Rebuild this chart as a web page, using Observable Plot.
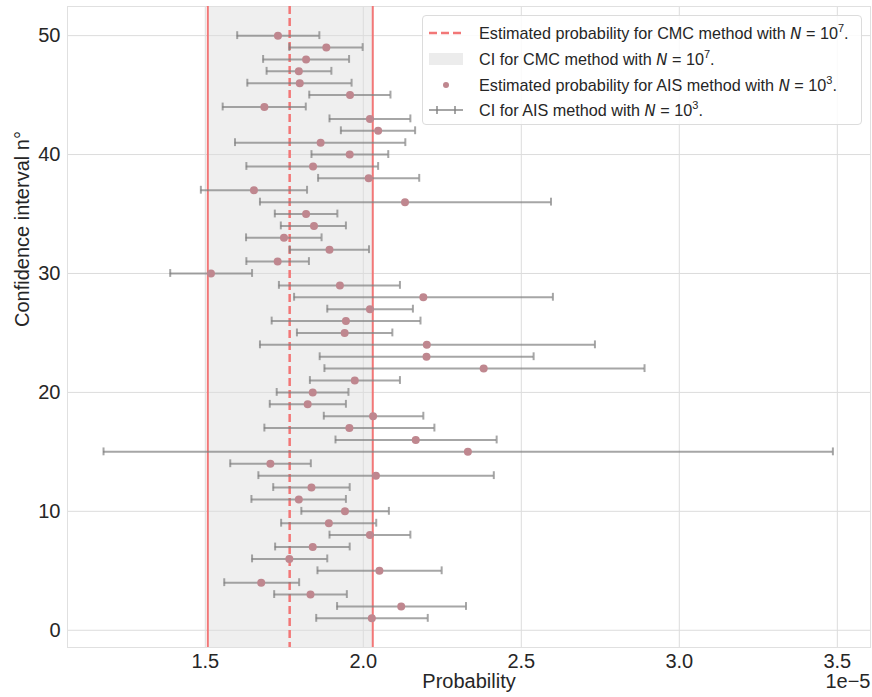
<!DOCTYPE html>
<html>
<head>
<meta charset="utf-8">
<script src="https://cdn.jsdelivr.net/npm/d3@7"></script>
<script src="https://cdn.jsdelivr.net/npm/@observablehq/plot@0.6"></script>
<style>
  html, body { margin: 0; padding: 0; background: #fff; }
  #wrap { position: relative; width: 872px; height: 697px; font-family: "Liberation Sans", Arial, sans-serif; color: #262626; }
  #legend { position: absolute; left: 422px; top: 15px; width: 440px; height: 110px; box-sizing: border-box;
    background: rgba(255,255,255,0.85); border: 1px solid #dcdcdc; border-radius: 4px; font-size: 16.2px; }
  .row { position: absolute; left: 0; height: 24px; display: flex; align-items: center; }
  .row svg { margin-left: 4px; width: 38px; height: 24px; }
  .row span { margin-left: 14px; white-space: nowrap; }
  .row i { font-family: "DejaVu Sans", sans-serif; font-size: 15px; }
  sup { font-size: 11px; vertical-align: 7px; line-height: 0; }
</style>
</head>
<body>
<div id="wrap">
  <div id="chart"></div>
  <div id="legend">
    <div class="row" style="top:5px"><svg><line x1="2" x2="36" y1="12" y2="12" stroke="#f27777" stroke-width="2.5" stroke-dasharray="8,4"/></svg><span>Estimated probability for CMC method with <i>N</i> = 10<sup>7</sup>.</span></div>
    <div class="row" style="top:31px"><svg><rect x="2" y="6" width="34" height="12" fill="#ececec"/></svg><span>CI for CMC method with <i>N</i> = 10<sup>7</sup>.</span></div>
    <div class="row" style="top:57px"><svg><circle cx="19" cy="12" r="3" fill="#bf878f"/></svg><span>Estimated probability for AIS method with <i>N</i> = 10<sup>3</sup>.</span></div>
    <div class="row" style="top:82px"><svg><line x1="2" x2="36" y1="12" y2="12" stroke="#808080" stroke-opacity="0.7" stroke-width="2"/><line x1="10" x2="10" y1="8" y2="16" stroke="#808080" stroke-opacity="0.7" stroke-width="2"/><line x1="28" x2="28" y1="8" y2="16" stroke="#808080" stroke-opacity="0.7" stroke-width="2"/></svg><span>CI for AIS method with <i>N</i> = 10<sup>3</sup>.</span></div>
  </div>
</div>
<script>
// Confidence interval number
const ids = [50,49,48,47,46,45,44,43,42,41,40,39,38,37,36,35,34,33,32,31,30,29,28,27,26,25,24,23,22,21,20,19,18,17,16,15,14,13,12,11,10,9,8,7,6,5,4,3,2,1];
// AIS estimates (x 1e-5)
const aisEst = [1.730,1.883,1.819,1.796,1.799,1.958,1.687,2.021,2.047,1.865,1.957,1.841,2.017,1.654,2.132,1.819,1.844,1.749,1.893,1.729,1.518,1.926,2.190,2.021,1.945,1.941,2.201,2.200,2.381,1.973,1.840,1.824,2.031,1.956,2.166,2.331,1.706,2.040,1.836,1.796,1.942,1.891,2.021,1.840,1.766,2.051,1.677,1.833,2.120,2.027];
// AIS CI lower bounds
const aisLow = [1.601,1.766,1.683,1.694,1.633,1.829,1.555,1.893,1.929,1.594,1.836,1.630,1.857,1.486,1.673,1.720,1.739,1.629,1.767,1.630,1.389,1.733,1.781,1.886,1.710,1.790,1.673,1.862,1.877,1.831,1.726,1.704,1.875,1.687,1.912,1.178,1.579,1.668,1.715,1.646,1.804,1.740,1.893,1.721,1.648,1.855,1.560,1.718,1.917,1.851];
// AIS CI upper bounds
const aisHigh = [1.861,1.998,1.955,1.899,1.963,2.086,1.818,2.149,2.164,2.133,2.079,2.047,2.177,1.822,2.594,1.918,1.945,1.868,2.018,1.828,1.648,2.116,2.600,2.157,2.181,2.092,2.733,2.539,2.890,2.116,1.953,1.945,2.190,2.225,2.422,3.486,1.834,2.413,1.957,1.945,2.081,2.041,2.149,1.957,1.886,2.248,1.797,1.948,2.325,2.204];
// CMC reference (x 1e-5)
const cmcEst = [1.767];
const cmcLow = [1.508];
const cmcHigh = [2.030];

const xTicks = [1.5, 2.0, 2.5, 3.0, 3.5];
const yTicks = [0, 10, 20, 30, 40, 50];

const data = ids.map((id, i) => ({id, est: aisEst[i], lo: aisLow[i], hi: aisHigh[i]}));
const cmc = [{est: cmcEst[0], lo: cmcLow[0], hi: cmcHigh[0]}];

const lineColor = "#f27777";
const barStroke = {stroke: "#808080", strokeOpacity: 0.7, strokeWidth: 2};

const chart = Plot.plot({
  width: 872,
  height: 697,
  marginLeft: 67,
  marginRight: 2,
  marginTop: 6,
  marginBottom: 50,
  style: {fontFamily: "'Liberation Sans', Arial, sans-serif", fontSize: "20px", color: "#262626", background: "transparent"},
  x: {domain: [1.064, 3.605], label: null},
  y: {domain: [-1.45, 52.45], label: null},
  marks: [
    Plot.rect(cmc, {x1: "lo", x2: "hi", fill: "#efefef"}),
    Plot.gridX(xTicks, {stroke: "#dcdcdc", strokeOpacity: 1, strokeWidth: 1}),
    Plot.gridY(yTicks, {stroke: "#dcdcdc", strokeOpacity: 1, strokeWidth: 1}),
    Plot.frame({stroke: "#e0e0e0"}),
    Plot.ruleX(cmc, {x: "lo", stroke: lineColor, strokeWidth: 2}),
    Plot.ruleX(cmc, {x: "hi", stroke: lineColor, strokeWidth: 2}),
    Plot.ruleX(cmc, {x: "est", stroke: lineColor, strokeWidth: 2.5, strokeDasharray: "8,4"}),
    Plot.ruleY(data, {y: "id", x1: "lo", x2: "hi", ...barStroke}),
    Plot.ruleX(data, {x: "lo", y1: d => d.id - 0.33, y2: d => d.id + 0.33, ...barStroke}),
    Plot.ruleX(data, {x: "hi", y1: d => d.id - 0.33, y2: d => d.id + 0.33, ...barStroke}),
    Plot.dot(data, {x: "est", y: "id", r: 4, fill: "#bf878f", stroke: "none"}),
    Plot.axisX(xTicks, {tickSize: 0, tickPadding: 6, tickFormat: d3.format(".1f"), label: null, fontSize: 20}),
    Plot.axisY(yTicks, {tickSize: 0, tickPadding: 7, label: null, fontSize: 20}),
    Plot.text(["Probability"], {frameAnchor: "bottom", lineAnchor: "middle", dy: 34, fontSize: 20, fill: "#262626"}),
    Plot.text(["1e\u22125"], {frameAnchor: "bottom-right", lineAnchor: "middle", dy: 34, textAnchor: "end", fontSize: 20, fill: "#262626"}),
    Plot.text(["Confidence interval n°"], {frameAnchor: "left", rotate: -90, dx: -45, fontSize: 20, fill: "#262626"})
  ]
});
document.getElementById("chart").appendChild(chart);
</script>
</body>
</html>
